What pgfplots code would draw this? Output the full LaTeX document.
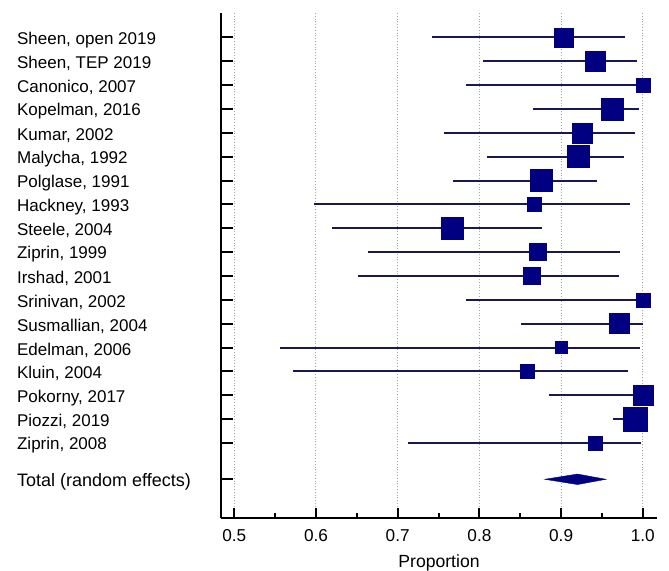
\documentclass[border=0pt]{standalone}
\usepackage{pgfplots}
\usepackage{pgfplotstable}
\pgfplotsset{compat=1.18}
\usepackage{fontspec}
\setmainfont{Liberation Sans}
\definecolor{navy}{RGB}{0,0,128}
\definecolor{ciline}{RGB}{25,25,80}

\pgfplotstableread{
y    x      lo     hi     s
-1   0.903  0.742  0.978  4.75
-2   0.942  0.804  0.993  5.0
-3   1.000  0.783  1.000  3.5
-4   0.962  0.865  0.995  5.5
-5   0.926  0.757  0.990  5.0
-6   0.921  0.809  0.977  5.5
-7   0.876  0.768  0.944  5.5
-8   0.867  0.597  0.984  3.5
-9   0.767  0.620  0.876  5.5
-10  0.871  0.664  0.972  4.25
-11  0.864  0.651  0.971  4.25
-12  1.000  0.783  1.000  3.5
-13  0.971  0.851  1.000  5.0
-14  0.900  0.556  0.996  3.0
-15  0.858  0.572  0.982  3.5
-16  1.000  0.885  1.000  5.0
-17  0.991  0.964  1.000  6.1
-18  0.942  0.713  0.998  3.5
}\studies

\begin{document}
\begin{tikzpicture}
\useasboundingbox (0,0) rectangle (334.5pt,-285pt);
\begin{axis}[
  at={(110.35pt,-258.85pt)}, anchor=south west,
  scale only axis, width=218.3pt, height=252.5pt,
  xmin=0.4834, xmax=1.0177, ymin=-21.13, ymax=0.031,
  axis x line=bottom, axis y line=left,
  axis line style={-, line width=1pt, black},
  tick align=inside,
  xtick={0.5,0.6,0.7,0.8,0.9,1.0},
  minor xtick={0.55,0.65,0.75,0.85,0.95},
  xmajorgrids,
  grid style={densely dotted, gray!70, line width=0.5pt},
  major tick length=4.65pt, minor tick length=2.2pt,
  x tick style={line width=1pt, black},
  y tick style={line width=1pt, black, /pgfplots/major tick length=6.35pt},
  ytick={-1,-2,-3,-4,-5,-6,-7,-8,-9,-10,-11,-12,-13,-14,-15,-16,-17,-18,-19.52},
  yticklabels={{Sheen, open 2019},{Sheen, TEP 2019},{Canonico, 2007},{Kopelman, 2016},{Kumar, 2002},{Malycha, 1992},{Polglase, 1991},{Hackney, 1993},{Steele, 2004},{Ziprin, 1999},{Irshad, 2001},{Srinivan, 2002},{Susmallian, 2004},{Edelman, 2006},{Kluin, 2004},{Pokorny, 2017},{Piozzi, 2019},{Ziprin, 2008},{{\fontsize{9}{10}\selectfont Total (random effects)}}},
  yticklabel style={anchor=west, inner sep=0pt, xshift=-102pt, yshift=-1.2pt, font=\fontsize{8.5}{10}\selectfont},
  xticklabel style={yshift=-2.6pt, font=\fontsize{8.6}{10}\selectfont},
  /pgf/number format/assume math mode=true,
  xticklabel={\pgfmathprintnumber[fixed, fixed zerofill, precision=1]{\tick}},
  xlabel={Proportion},
  xlabel style={at={(axis description cs:0.5,0)}, anchor=center, yshift=-22.5pt, font=\fontsize{8.8}{10}\selectfont},
  clip=false,
]
\addplot[only marks, mark=none, forget plot,
  error bars/.cd, x dir=both, x explicit, error mark=none,
  error bar style={draw=ciline, line width=1pt}]
  table[x=x, y=y, x error plus expr=\thisrow{hi}-\thisrow{x}, x error minus expr=\thisrow{x}-\thisrow{lo}] {\studies};
\addplot[scatter, only marks, mark=square*,
  point meta=\thisrow{s},
  scatter/use mapped color={draw=navy, fill=navy},
  visualization depends on={\thisrow{s} \as \perpointmarksize},
  scatter/@pre marker code/.append style={/tikz/mark size=\perpointmarksize},
  mark options={line width=0.2pt}]
  table[x=x, y=y] {\studies};
\addplot[fill=navy, draw=navy, line width=0.2pt] coordinates {(0.880,-19.52) (0.920,-19.30) (0.955,-19.52) (0.920,-19.74)} -- cycle;
\end{axis}
\end{tikzpicture}
\end{document}
